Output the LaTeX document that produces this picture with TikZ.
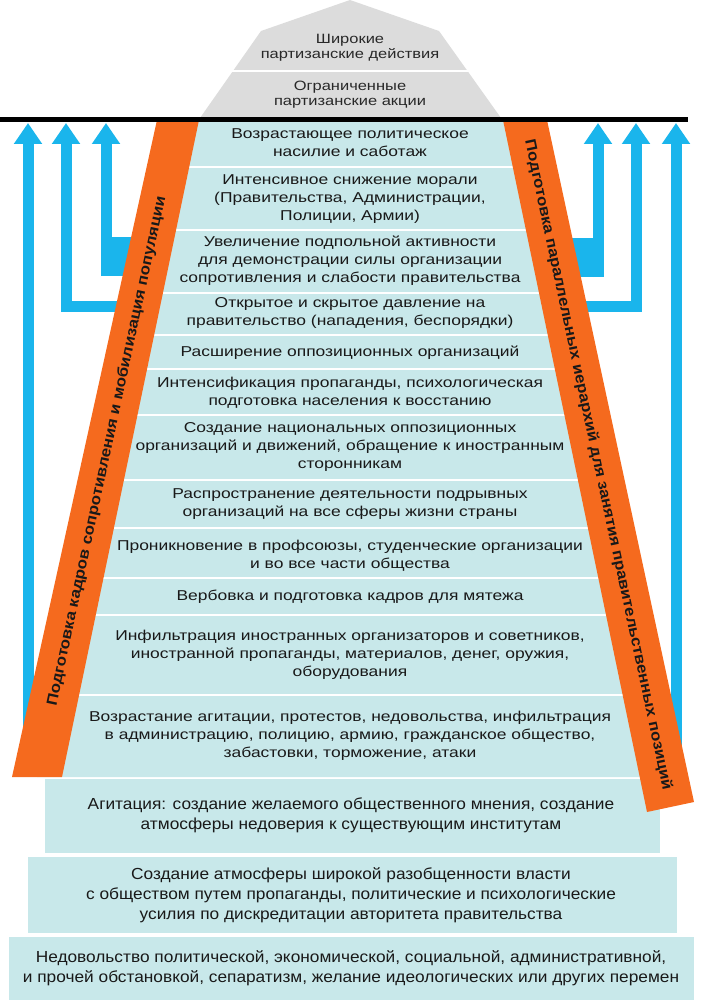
\documentclass[tikz,border=0pt]{standalone}
\usepackage{fontspec}
\setmainfont{Liberation Sans}
\newfontfamily\widefont[FakeStretch=1.22]{Liberation Sans}
\newfontfamily\botfont[FakeStretch=1.08]{Liberation Sans}
\newfontfamily\barfont[FakeStretch=1.12]{Liberation Sans}
\usetikzlibrary{arrows.meta}
\definecolor{tiercyan}{RGB}{200,232,234}
\definecolor{graybg}{RGB}{220,220,220}
\definecolor{barorange}{RGB}{245,106,30}
\definecolor{arrowblue}{RGB}{26,181,236}
\definecolor{txt}{RGB}{25,25,25}
\definecolor{gtxt}{RGB}{40,40,40}
\tikzset{
  tiertext/.style={font=\widefont\fontsize{14.3}{18}\selectfont, align=center, text=txt, inner sep=0pt},
  bottext/.style={font=\botfont\fontsize{16}{20}\selectfont, align=center, text=txt, inner sep=0pt},
  graytext/.style={font=\widefont\fontsize{13.5}{15}\selectfont, align=center, text=gtxt, inner sep=0pt},
  bartext/.style={font=\barfont\bfseries\fontsize{15}{17}\selectfont, text=txt, inner sep=0pt},
  bluearrow/.style={draw=arrowblue, line width=11pt, -{Triangle[width=27pt,length=21pt]}},
  sepline/.style={draw=white, line width=2.5pt},
}
\begin{document}
\begin{tikzpicture}[x=1pt,y=-1pt]
\useasboundingbox (0,0) rectangle (702,1000);
% gray top
\fill[graybg] (350,0) -- (439,31) -- (501,118) -- (200,118) -- (261,31) -- cycle;
\draw[sepline] (200,71) -- (502,71);
% cyan trapezoid tiers
\fill[tiercyan] (178,120) -- (525,120) -- (668,777) -- (37,777) -- cycle;
\foreach \y in {167,230,293,335,369,415,480,528,578,615,695}
  \draw[sepline] (0,\y) -- (702,\y);
% bottom tiers
\fill[tiercyan] (45,779) rectangle (660,853);
\fill[tiercyan] (28,857) rectangle (677,933);
\fill[tiercyan] (9,937) rectangle (694,1000);
% blue arrows left
\coordinate (La) at (28,770);  \coordinate (Lb) at (28,123);
\coordinate (Ma) at (130,306); \coordinate (Mc) at (66,306); \coordinate (Mb) at (66,123);
\coordinate (Ia) at (106,276); \coordinate (Ib) at (106,123);
\draw[bluearrow] (La) -- (Lb);
\draw[bluearrow] (Ma) -- (Mc) -- (Mb);
\fill[arrowblue] (100.5,237) rectangle (135,276);
\draw[bluearrow] (Ia) -- (Ib);
% blue arrows right
\coordinate (RIa) at (598,277); \coordinate (RIb) at (598,123);
\coordinate (RMa) at (580,306); \coordinate (RMc) at (636,306); \coordinate (RMb) at (636,123);
\coordinate (ROa) at (676,760); \coordinate (ROb) at (676,123);
\fill[arrowblue] (565,238) rectangle (603.5,277);
\draw[bluearrow] (RIa) -- (RIb);
\draw[bluearrow] (RMa) -- (RMc) -- (RMb);
\draw[bluearrow] (ROa) -- (ROb);
% orange bars
\fill[barorange] (157,120) -- (199,120) -- (62,777) -- (12,777) -- cycle;
\fill[barorange] (503,120) -- (547,120) -- (694,802) -- (647,812) -- cycle;
% black line
\draw[line width=5pt] (0,119.5) -- (688,119.5);
% gray texts
\node[graytext] (g1) at (350,48) {Широкие\\партизанские действия};
\node[graytext] (g2) at (350,95) {Ограниченные\\партизанские акции};
% tier texts
\node[tiertext] (t1) at (350,143) {Возрастающее политическое\\насилие и саботаж};
\node[tiertext] (t2) at (350,199) {Интенсивное снижение морали\\(Правительства, Администрации,\\Полиции, Армии)};
\node[tiertext] (t3) at (350,261) {Увеличение подпольной активности\\для демонстрации силы организации\\сопротивления и слабости правительства};
\node[tiertext] (t4) at (350,313) {Открытое и скрытое давление на\\правительство (нападения, беспорядки)};
\node[tiertext] (t5) at (350,353) {Расширение оппозиционных организаций};
\node[tiertext] (t6) at (350,393) {Интенсификация пропаганды, психологическая\\подготовка населения к восстанию};
\node[tiertext] (t7) at (350,447) {Создание национальных оппозиционных\\организаций и движений, обращение к иностранным\\сторонникам};
\node[tiertext] (t8) at (350,504) {Распространение деятельности подрывных\\организаций на все сферы жизни страны};
\node[tiertext] (t9) at (350,556) {Проникновение в профсоюзы, студенческие организации\\и во все части общества};
\node[tiertext] (t10) at (350,597) {Вербовка и подготовка кадров для мятежа};
\node[tiertext] (t11) at (350,655) {Инфильтрация иностранных организаторов и советников,\\иностранной пропаганды, материалов, денег, оружия,\\оборудования};
\node[tiertext] (t12) at (350,736) {Возрастание агитации, протестов, недовольства, инфильтрация\\в администрацию, полицию, армию, гражданское общество,\\забастовки, торможение, атаки};
\node[bottext] (t13) at (351,815) {Агитация: создание желаемого общественного мнения, создание\\атмосферы недоверия к существующим институтам};
\node[bottext] (t14) at (351,895) {Создание атмосферы широкой разобщенности власти\\с обществом путем пропаганды, политические и психологические\\усилия по дискредитации авторитета правительства};
\node[bottext] (t15) at (351,968) {Недовольство политической, экономической, социальной, административной,\\и прочей обстановкой, сепаратизм, желание идеологических или других перемен};
% bar texts
\node[bartext, rotate=77.9] (lb) at (107,451) {Подготовка кадров сопротивления и мобилизация популяции};
\node[bartext, rotate=-78] (rb) at (598,465) {Подготовка параллельных иерархий для занятия правительственных позиций};
\end{tikzpicture}
\end{document}
